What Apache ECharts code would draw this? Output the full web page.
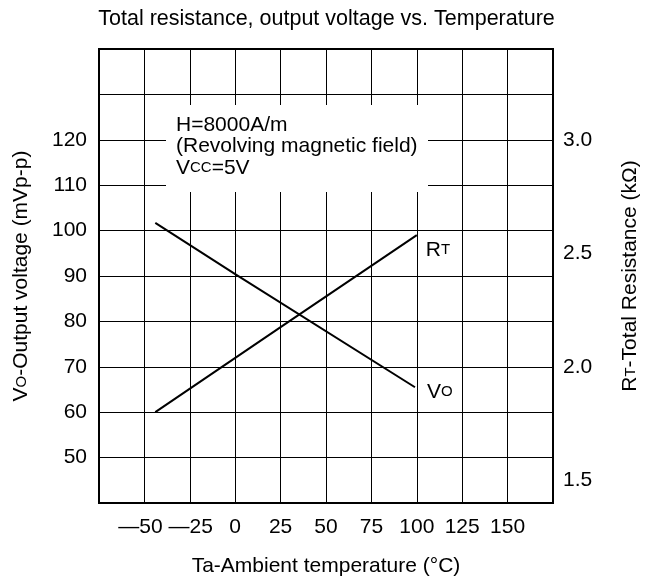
<!DOCTYPE html>
<html>
<head>
<meta charset="utf-8">
<script src="https://cdn.jsdelivr.net/npm/echarts@6/dist/echarts.min.js"></script>
<style>
html,body{margin:0;padding:0;background:#fff;}
#c{width:653px;height:580px;}
</style>
</head>
<body>
<div id="c"></div>
<script>
// Data
const titleText = 'Total resistance, output voltage vs. Temperature';
const xTicks = [-50, -25, 0, 25, 50, 75, 100, 125, 150];
const voTemps = [-44, 0, 99];
const voValues = [101.7, 90.4, 65.5];      // mVp-p
const rtTemps = [-44, 25, 100];
const rtValues = [1.80, 2.175, 2.58];      // kOhm
const leftLabels = [50, 60, 70, 80, 90, 100, 110, 120];
const rightLabels = [1.5, 2.0, 2.5, 3.0];
const noteLines = ['H=8000A/m', '(Revolving magnetic field)', 'V{s|CC}=5V'];

const FONT = 'Liberation Sans, Arial, sans-serif';
const FS = 21;
const FSS = 15;

const chart = echarts.init(document.getElementById('c'), null, {renderer: 'canvas'});

const voData = voTemps.map((t, i) => [t, voValues[i]]);
const rtData = rtTemps.map((t, i) => [t, rtValues[i]]);

function xLabel(v) {
  if (xTicks.indexOf(v) < 0) return '';
  if (v === -50) return '{a|\u2014' + (-v) + '}';
  if (v < 0) return '{b|\u2014' + (-v) + '}';
  return String(v);
}

const option = {
  backgroundColor: '#fff',
  animation: false,
  textStyle: {fontFamily: FONT, color: '#000'},
  title: {
    text: titleText,
    left: 'center',
    top: 3,
    textStyle: {fontFamily: FONT, fontSize: 21.5, fontWeight: 'normal', color: '#000'}
  },
  grid: {
    left: 99, top: 49, width: 454, height: 454,
    show: true, borderColor: '#000', borderWidth: 2,
    containLabel: false, outerBoundsMode: 'none'
  },
  xAxis: {
    type: 'value', min: -75, max: 175, interval: 25,
    name: 'Ta-Ambient temperature (°C)',
    nameLocation: 'middle', nameGap: 53,
    nameTextStyle: {fontFamily: FONT, fontSize: FS, color: '#000'},
    axisLine: {show: true, onZero: false, lineStyle: {color: '#000', width: 2}},
    axisTick: {show: false},
    splitLine: {show: true, lineStyle: {color: '#000', width: 1}},
    axisLabel: {
      margin: 14, fontFamily: FONT, fontSize: FS, color: '#000',
      formatter: xLabel,
      rich: {
        a: {fontFamily: FONT, fontSize: FS, color: '#000', padding: [0, 8, 0, 0]},
        b: {fontFamily: FONT, fontSize: FS, color: '#000', padding: [0, 0, 0, 2]}
      }
    }
  },
  yAxis: [{
    type: 'value', min: 40, max: 140, interval: 10, position: 'left',
    name: 'V{s|O}-Output voltage (mVp-p)',
    nameLocation: 'middle', nameGap: 67,
    nameTextStyle: {fontFamily: FONT, fontSize: FS, color: '#000',
      rich: {s: {fontFamily: FONT, fontSize: FSS, color: '#000'}}},
    axisLine: {show: true, onZero: false, lineStyle: {color: '#000', width: 2}},
    axisTick: {show: false},
    splitLine: {show: true, lineStyle: {color: '#000', width: 1}},
    axisLabel: {
      margin: 12, fontFamily: FONT, fontSize: FS, color: '#000',
      formatter: v => leftLabels.indexOf(Math.round(v)) < 0 ? '' : String(Math.round(v))
    }
  }, {
    type: 'value', min: 1.4, max: 3.4, interval: 0.1, position: 'right',
    name: 'R{s|T}-Total Resistance (k\u03A9)',
    nameLocation: 'middle', nameGap: 67,
    nameTextStyle: {fontFamily: FONT, fontSize: FS, color: '#000',
      rich: {s: {fontFamily: FONT, fontSize: FSS, color: '#000'}}},
    axisLine: {show: true, onZero: false, lineStyle: {color: '#000', width: 2}},
    axisTick: {show: false},
    splitLine: {show: false},
    axisLabel: {
      margin: 10, fontFamily: FONT, fontSize: FS, color: '#000',
      formatter: v => {
        const r = Math.round(v * 10) / 10;
        return rightLabels.some(x => Math.abs(x - r) < 1e-6) && Math.abs(v - r) < 1e-6 ? r.toFixed(1) : '';
      }
    }
  }],
  graphic: [{
    type: 'rect', z: 50,
    shape: {x: 166, y: 105, width: 262, height: 87},
    style: {fill: '#fff'}
  }, {
    type: 'text', z: 51, x: 176, y: 114,
    style: {
      text: noteLines.join('\n'),
      fill: '#000', fontFamily: FONT, fontSize: FS, lineHeight: 21.5,
      rich: {s: {fontFamily: FONT, fontSize: FSS, lineHeight: 21.5, fill: '#000', color: '#000'}}
    }
  }],
  series: [{
    type: 'line', name: 'VO', yAxisIndex: 0, data: voData,
    symbol: 'none', lineStyle: {color: '#000', width: 2}, z: 5,
    endLabel: {
      show: true, formatter: 'V{s|O}', offset: [4, 5],
      fontFamily: FONT, fontSize: FS, color: '#000',
      rich: {s: {fontFamily: FONT, fontSize: FSS, color: '#000'}}
    }
  }, {
    type: 'line', name: 'RT', yAxisIndex: 1, data: rtData,
    symbol: 'none', lineStyle: {color: '#000', width: 2}, z: 5,
    endLabel: {
      show: true, formatter: 'R{s|T}', offset: [1, 15],
      fontFamily: FONT, fontSize: FS, color: '#000',
      rich: {s: {fontFamily: FONT, fontSize: FSS, color: '#000'}}
    }
  }]
};
chart.setOption(option);
</script>
</body>
</html>
